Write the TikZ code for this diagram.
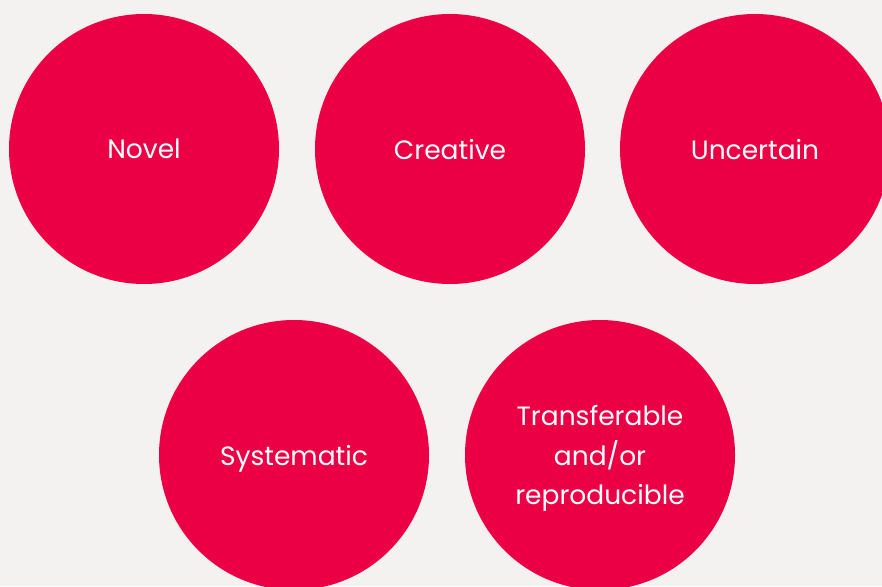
\documentclass[tikz,border=0pt]{standalone}
\usepackage{fontspec}
\setmainfont{Poppins}
\definecolor{bubblered}{RGB}{235,0,69}
\definecolor{paper}{RGB}{243,242,240}
\begin{document}
\begin{tikzpicture}[
        x=1pt, y=-1pt,
        bubble/.style={circle, fill=bubblered, text=white, minimum size=270pt,
            inner sep=0pt, align=center, text depth=-2pt,
            font=\fontsize{26.5}{39.5}\selectfont}
    ]
    \fill [paper] (0,0) rectangle (882,586);
    \useasboundingbox (0,0) rectangle (882,586);
    \node [bubble] (novel)     at (144,149) {Novel};
    \node [bubble] (creative)  at (450,149) {Creative};
    \node [bubble] (uncertain) at (755,149) {Uncertain};
    \node [bubble] (systematic) at (294,455) {Systematic};
    \node [bubble] (transfer)  at (600,455) {Transferable\\and/or\\reproducible};
\end{tikzpicture}
\end{document}
